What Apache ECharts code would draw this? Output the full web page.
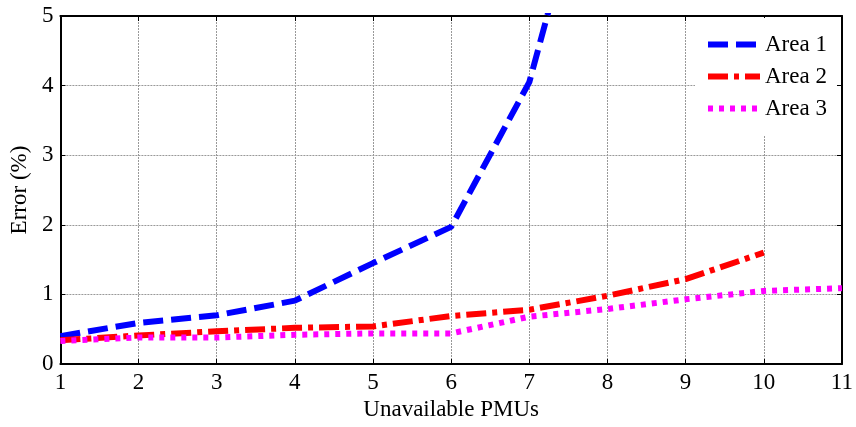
<!DOCTYPE html>
<html>
<head>
<meta charset="utf-8">
<script src="https://cdn.jsdelivr.net/npm/echarts@6/dist/echarts.min.js"></script>
<style>html,body{margin:0;padding:0;background:#fff}#c{width:856px;height:427px}</style>
</head>
<body>
<div id="c"></div>
<script>
var xValues = [1, 2, 3, 4, 5, 6, 7, 8, 9, 10, 11];
var area1 = [0.40, 0.59, 0.70, 0.91, 1.45, 1.97, 4.05, 8.2];
var area2 = [0.34, 0.41, 0.47, 0.52, 0.54, 0.69, 0.78, 0.98, 1.22, 1.6];
var area3 = [0.33, 0.38, 0.38, 0.42, 0.44, 0.44, 0.68, 0.79, 0.93, 1.05, 1.09];
var seriesNames = ['Area 1', 'Area 2', 'Area 3'];

function pairs(vals) { return vals.map(function (v, i) { return [xValues[i], v]; }); }

var font = 'Liberation Serif';
var fs = 23;
var chart = echarts.init(document.getElementById('c'), null, {renderer: 'canvas'});
var tickStyle = {show: true, inside: true, length: 5, lineStyle: {color: '#000', width: 1}};
var gridLine = {show: true, lineStyle: {color: '#999', type: [2, 1], width: 1}};
chart.setOption({
  animation: false,
  backgroundColor: '#fff',
  grid: {left: 59, right: 13, top: 16, bottom: 63, show: false},
  legend: {
    orient: 'vertical', left: 695, top: 18,
    backgroundColor: '#fff',
    padding: [15, 10, 15, 10],
    itemGap: 9, itemWidth: 52, itemHeight: 22,
    itemStyle: {opacity: 0},
    lineStyle: {width: 6, type: 'inherit'},
    textStyle: {fontFamily: font, fontSize: fs, color: '#000'},
    data: seriesNames
  },
  xAxis: [{
    type: 'value', min: 1, max: 11, interval: 1,
    name: 'Unavailable PMUs', nameLocation: 'middle', nameGap: 31,
    nameTextStyle: {fontFamily: font, fontSize: fs, color: '#000'},
    axisLine: {show: true, lineStyle: {color: '#000', width: 2}},
    axisTick: tickStyle,
    axisLabel: {fontFamily: font, fontSize: fs, color: '#000', margin: 7},
    splitLine: gridLine
  }, {
    type: 'value', min: 1, max: 11, interval: 1, position: 'top',
    axisLine: {show: true, onZero: false, lineStyle: {color: '#000', width: 2}},
    axisTick: tickStyle, axisLabel: {show: false}, splitLine: {show: false}
  }],
  yAxis: [{
    type: 'value', min: 0, max: 5, interval: 1,
    name: 'Error (%)', nameLocation: 'middle', nameGap: 24,
    nameTextStyle: {fontFamily: font, fontSize: fs, color: '#000'},
    axisLine: {show: true, lineStyle: {color: '#000', width: 2}},
    axisTick: tickStyle,
    axisLabel: {fontFamily: font, fontSize: fs, color: '#000', margin: 7},
    splitLine: gridLine
  }, {
    type: 'value', min: 0, max: 5, interval: 1, position: 'right',
    axisLine: {show: true, onZero: false, lineStyle: {color: '#000', width: 2}},
    axisTick: tickStyle, axisLabel: {show: false}, splitLine: {show: false}
  }],
  series: [{
    name: seriesNames[0], type: 'line', data: pairs(area1), symbol: 'none', clip: true,
    itemStyle: {color: '#0000ff'},
    lineStyle: {color: '#0000ff', width: 6, type: [20, 8]}
  }, {
    name: seriesNames[1], type: 'line', data: pairs(area2), symbol: 'none', clip: true,
    itemStyle: {color: '#ff0000'},
    lineStyle: {color: '#ff0000', width: 6, type: [20, 6, 5, 6]}
  }, {
    name: seriesNames[2], type: 'line', data: pairs(area3), symbol: 'none', clip: true,
    itemStyle: {color: '#ff00ff'},
    lineStyle: {color: '#ff00ff', width: 6, type: [5, 6]}
  }]
});
</script>
</body>
</html>
